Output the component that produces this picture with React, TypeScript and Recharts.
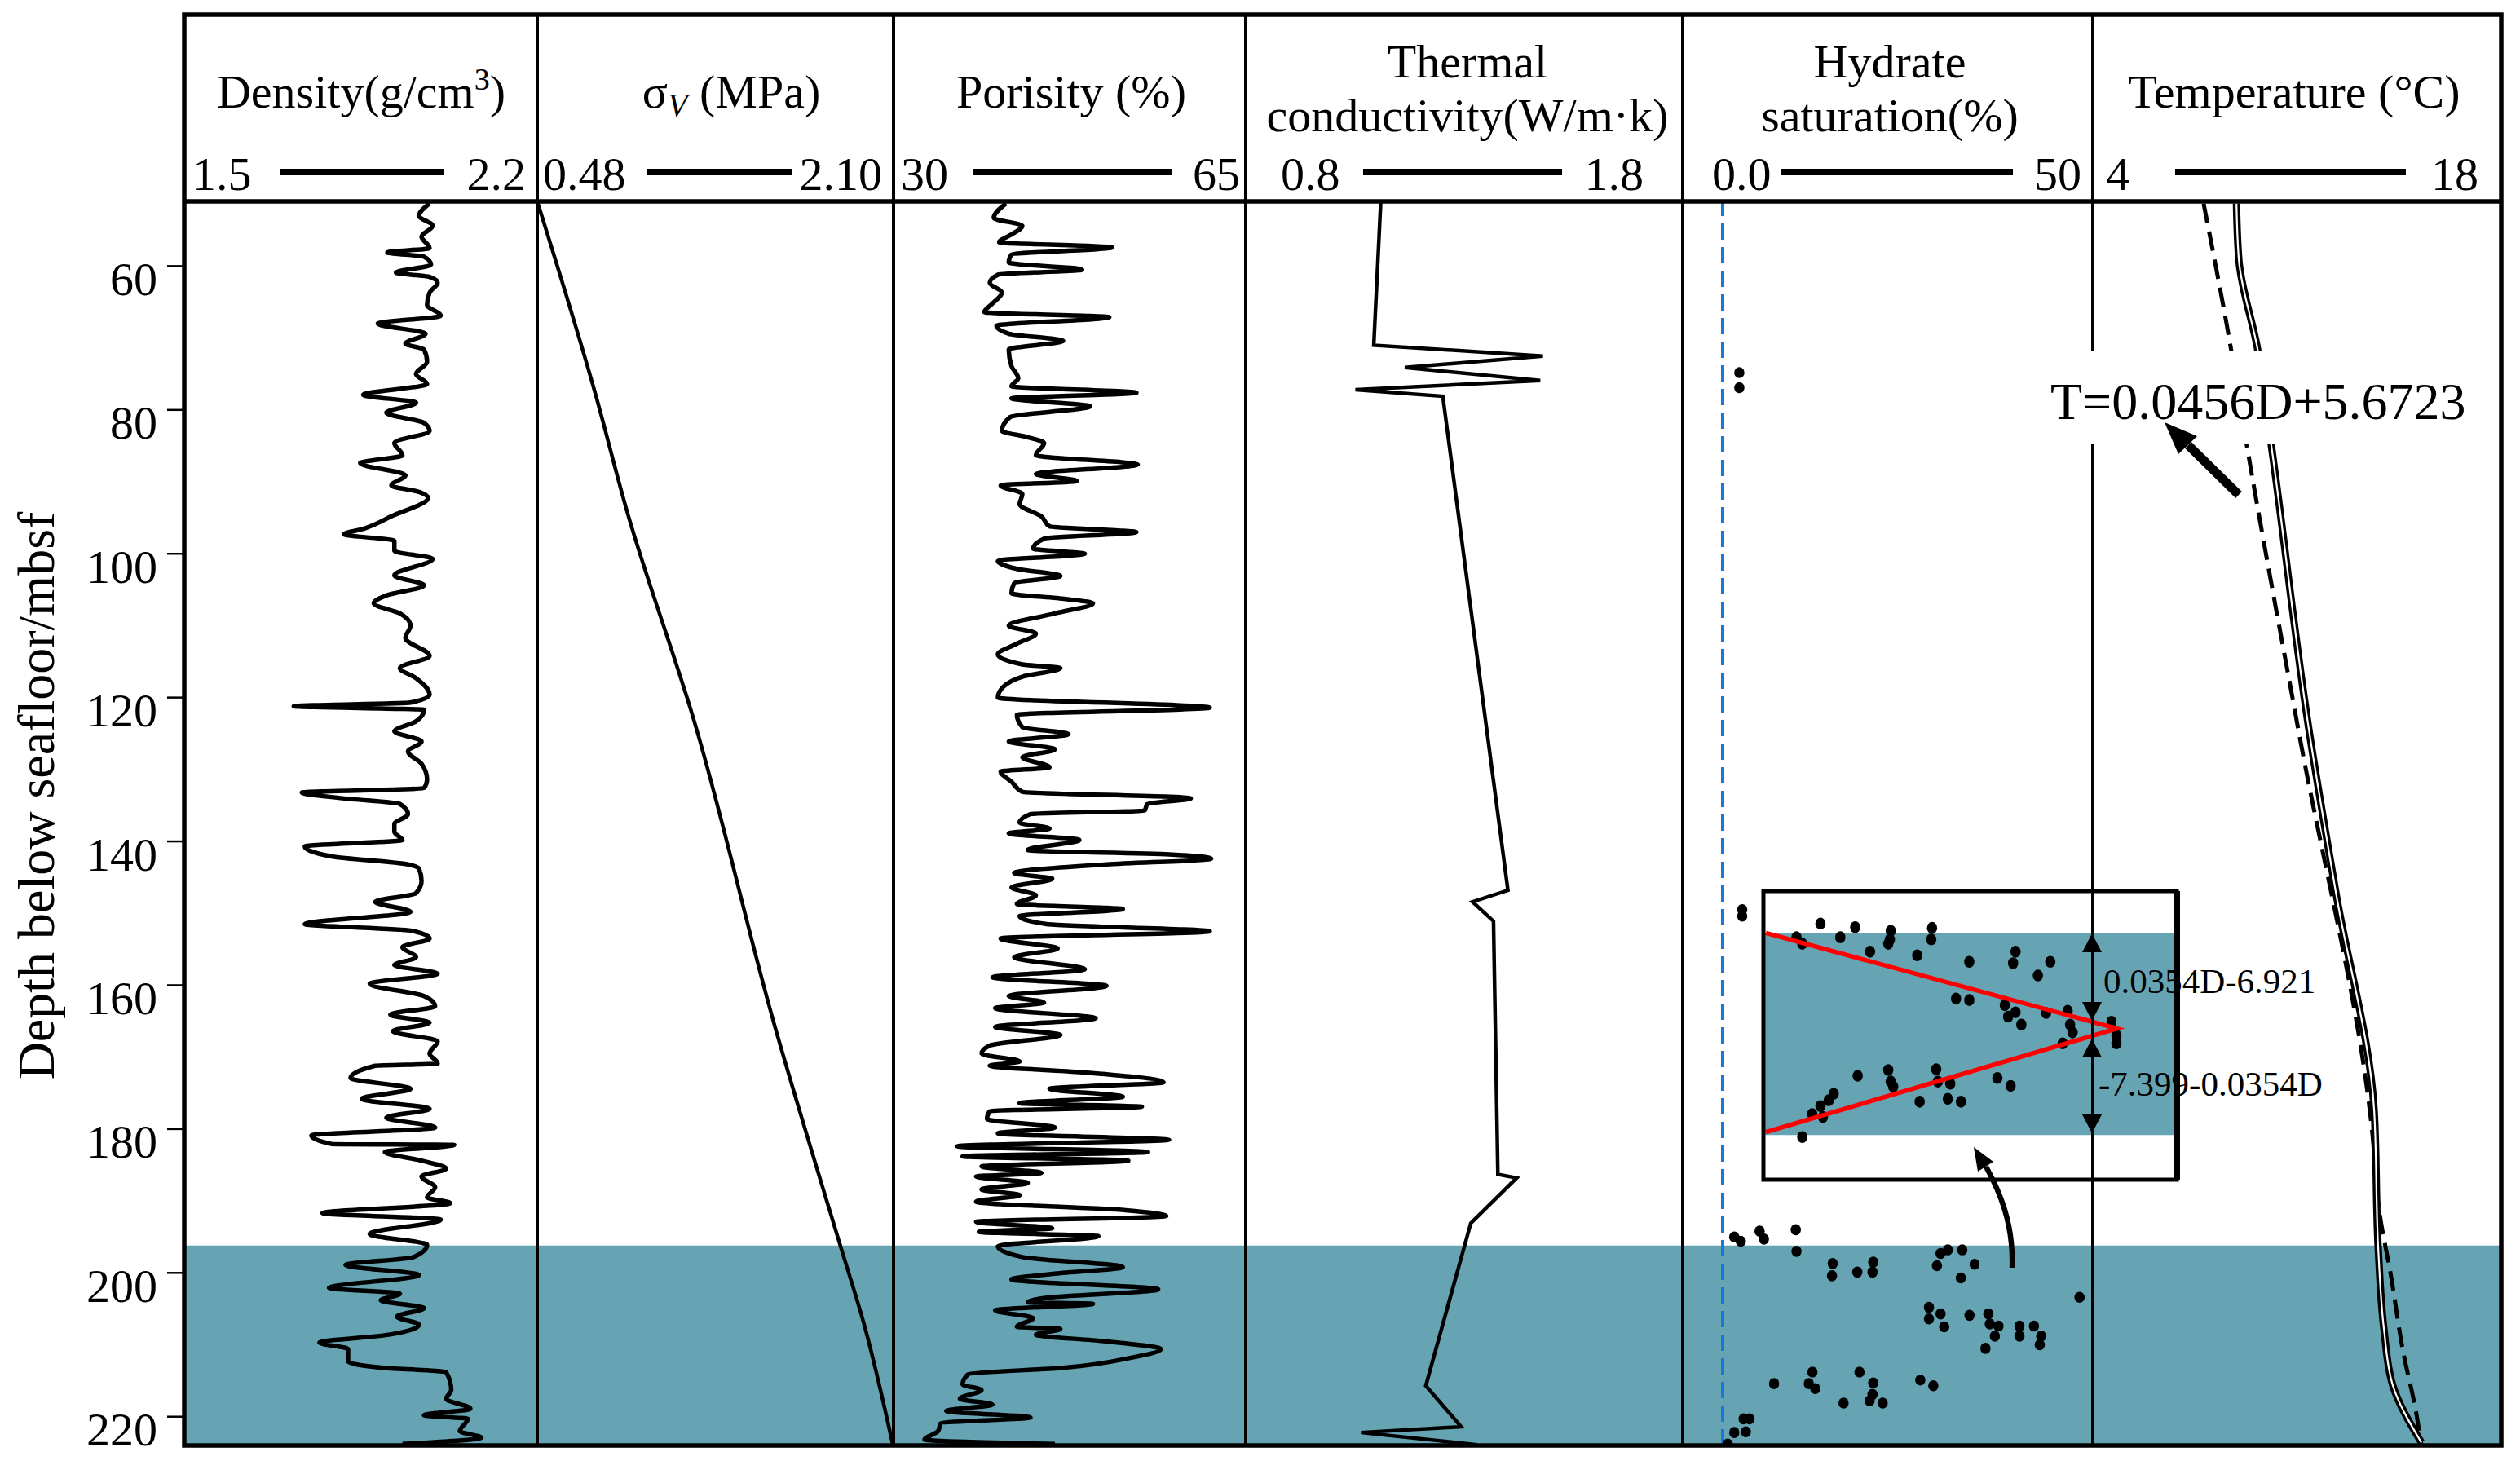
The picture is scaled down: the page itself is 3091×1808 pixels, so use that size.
import React from 'react';
import { ScatterChart, Scatter, XAxis, YAxis, ReferenceArea, ReferenceLine } from 'recharts';

// ---------------- data ----------------
const depthTicks = [60, 80, 100, 120, 140, 160, 180, 200, 220];
const depthRange: [number, number] = [51, 224];
const hydrateZone: [number, number] = [196.2, 224];

// [depth (mbsf), density g/cm3]
const densityLog: [number, number][] = [
  [51.3, 1.986], [53.0, 1.965], [54.4, 1.992], [55.9, 1.97], [57.5, 1.986], [58.1, 1.902], [58.7, 1.975], [59.8, 1.989],
  [60.9, 1.919], [61.5, 1.986], [62.3, 2.002], [63.7, 1.986], [65.4, 1.981], [66.9, 2.008], [68.0, 1.883], [69.4, 1.978],
  [70.8, 1.938], [71.6, 1.975], [73.3, 1.981], [75.0, 1.959], [76.4, 1.981], [77.9, 1.854], [79.0, 1.959], [80.4, 1.9],
  [81.8, 1.975], [82.9, 1.986], [84.6, 1.916], [86.3, 1.932], [87.4, 1.848], [89.1, 1.938], [90.5, 1.91], [91.4, 1.965],
  [92.2, 1.983], [94.8, 1.91], [96.5, 1.856], [97.3, 1.816], [98.2, 1.916], [99.6, 1.916], [100.7, 1.992], [103.0, 1.916],
  [104.4, 1.975], [105.8, 1.9], [106.9, 1.875], [108.3, 1.927], [110.0, 1.948], [111.7, 1.938], [114.2, 1.986], [115.9, 1.927],
  [117.3, 1.959], [119.6, 1.986], [120.7, 1.948], [121.2, 1.716], [121.7, 1.975], [123.3, 1.959], [124.7, 1.916], [126.1, 1.97],
  [127.5, 1.943], [129.2, 1.97], [131.4, 1.981], [132.6, 1.975], [133.2, 1.732], [134.0, 1.813], [134.8, 1.927], [136.2, 1.943],
  [137.6, 1.916], [138.7, 1.916], [139.8, 1.932], [140.7, 1.738], [142.1, 1.792], [143.2, 1.943], [143.8, 1.965], [145.5, 1.97],
  [147.2, 1.959], [148.4, 1.878], [149.8, 1.948], [151.5, 1.738], [152.4, 1.948], [153.5, 1.986], [154.7, 1.932], [156.1, 1.959],
  [157.2, 1.916], [158.4, 2.002], [159.8, 1.867], [161.5, 1.975], [162.9, 1.997], [164.1, 1.908], [165.2, 1.986], [166.4, 1.913],
  [167.8, 2.002], [169.5, 1.986], [170.9, 2.002], [171.2, 1.878], [172.9, 1.829], [174.4, 1.948], [175.8, 1.851], [177.2, 1.986],
  [178.4, 1.9], [179.8, 1.997], [180.9, 1.751], [182.1, 1.792], [182.2, 2.035], [183.2, 1.897], [184.4, 1.97], [185.5, 2.019],
  [186.6, 1.97], [188.1, 1.997], [189.5, 1.981], [190.3, 2.027], [191.7, 1.773], [192.6, 2.008], [194.6, 1.867], [196.1, 1.981],
  [197.8, 1.954], [198.9, 1.819], [200.3, 1.965], [202.1, 1.786], [202.9, 1.927], [203.8, 1.889], [204.9, 1.975], [206.1, 1.921],
  [207.2, 1.965], [208.6, 1.905], [209.7, 1.767], [210.6, 1.824], [212.3, 1.824], [213.2, 1.894], [213.8, 2.019], [216.3, 2.029],
  [217.5, 2.019], [218.9, 2.067], [219.8, 1.975], [220.3, 2.062], [222.0, 2.046], [222.9, 2.089], [223.8, 1.932],
];

// [depth, vertical effective stress MPa]
const stressLog: [number, number][] = [
  [51, 0.48], [77.4, 0.741], [94.4, 0.891], [122.8, 1.189], [165.9, 1.562], [196.5, 1.861], [206.7, 1.962], [223.8, 2.096],
];

// [depth, porosity %]
const porosityLog: [number, number][] = [
  [51.3, 41.18], [53.3, 39.96], [54.4, 42.8], [55.6, 41.72], [56.7, 40.5], [57.4, 51.71], [58.4, 41.72], [59.5, 41.45],
  [60.5, 48.74], [61.2, 40.37], [62.3, 39.56], [63.7, 40.77], [65.2, 39.83], [66.4, 39.02], [67.1, 51.44], [68.3, 40.23],
  [69.4, 41.45], [70.4, 46.85], [71.6, 41.45], [73.9, 41.72], [75.6, 42.39], [76.7, 41.72], [77.6, 54.14], [78.4, 41.72],
  [79.5, 49.55], [81.0, 41.58], [82.9, 40.77], [83.8, 43.34], [84.6, 44.96], [86.3, 44.15], [87.6, 54.27], [88.9, 44.15],
  [89.9, 48.2], [90.5, 40.64], [91.7, 42.8], [93.1, 42.53], [94.8, 44.69], [96.2, 45.5], [97.0, 54.14], [97.9, 44.96],
  [99.3, 43.88], [100.0, 49.01], [101.0, 40.37], [102.1, 42.26], [103.1, 46.58], [104.1, 41.99], [105.5, 41.72], [106.3, 47.12],
  [106.9, 49.82], [108.3, 46.04], [110.0, 41.45], [111.1, 44.15], [112.5, 42.26], [114.0, 40.37], [115.4, 42.8], [115.9, 46.58],
  [117.1, 42.8], [118.5, 40.91], [120.0, 40.37], [121.4, 61.43], [122.4, 42.26], [124.1, 42.8], [125.1, 47.39], [126.1, 41.45],
  [127.2, 46.04], [128.3, 42.8], [129.7, 45.5], [130.3, 40.64], [131.7, 41.72], [133.1, 42.8], [134.0, 59.54], [134.8, 55.22],
  [135.7, 54.95], [136.2, 43.61], [137.4, 42.53], [138.2, 45.5], [138.9, 41.45], [139.8, 48.47], [141.2, 43.34], [141.8, 57.38],
  [142.4, 61.56], [143.2, 51.17], [144.4, 41.99], [145.2, 45.77], [146.4, 41.72], [147.5, 44.15], [148.7, 42.26], [149.4, 52.79],
  [150.4, 42.53], [151.5, 45.23], [152.5, 61.43], [153.5, 40.64], [154.9, 46.31], [156.1, 41.99], [157.8, 49.01], [158.9, 39.83],
  [160.1, 51.17], [161.5, 41.45], [162.4, 44.96], [163.2, 40.1], [164.6, 50.09], [165.8, 40.1], [166.9, 46.58], [168.4, 39.56],
  [169.5, 38.75], [170.6, 42.53], [171.2, 39.56], [172.1, 48.74], [173.5, 56.84], [174.4, 45.5], [175.5, 52.79], [176.4, 42.53],
  [176.9, 54.68], [177.5, 39.56], [178.6, 39.29], [179.8, 46.04], [180.6, 40.37], [181.5, 57.38], [182.4, 36.32], [183.2, 55.22],
  [183.8, 36.86], [184.4, 53.33], [185.2, 38.75], [186.1, 44.69], [186.6, 38.21], [187.5, 43.34], [188.4, 38.75], [189.2, 42.53],
  [190.1, 38.21], [191.3, 53.06], [192.1, 57.11], [192.9, 38.21], [193.8, 45.77], [194.3, 38.48], [194.9, 50.36], [196.3, 40.37],
  [197.8, 42.8], [199.2, 52.79], [200.1, 46.04], [200.9, 41.72], [202.3, 56.3], [203.5, 44.96], [204.1, 43.34], [204.3, 49.82],
  [205.2, 40.1], [206.3, 43.88], [207.5, 42.26], [207.8, 46.58], [208.6, 44.15], [209.5, 50.9], [210.6, 56.57], [211.8, 53.6],
  [213.2, 46.85], [214.1, 37.4], [215.5, 36.86], [216.3, 38.75], [217.5, 36.59], [218.3, 39.83], [219.2, 35.24], [220.1, 43.61],
  [220.9, 34.7], [222.0, 34.43], [223.2, 33.08], [223.8, 46.04],
];

// [depth, thermal conductivity W/m·k]
const conductivityLog: [number, number][] = [
  [51, 1.109], [71.0, 1.093], [72.5, 1.48], [74.1, 1.164], [75.9, 1.474], [77.2, 1.051], [78.1, 1.251], [146.8, 1.4],
  [148.4, 1.319], [151.1, 1.367], [186.3, 1.377], [186.8, 1.42], [193.1, 1.315], [215.7, 1.212], [221.4, 1.293], [222.2, 1.064],
  [223.9, 1.329],
];

// [depth, hydrate saturation %]
const saturationPoints: [number, number][] = [
  [74.8, 2.3], [76.9, 2.3], [149.5, 2.7], [150.4, 2.7],
  [195.0, 1.6], [195.6, 2.5], [194.2, 5.1], [195.3, 5.7], [194.0, 10.1], [197.0, 10.2], [198.7, 15.2], [200.4, 15.1],
  [199.9, 18.6], [198.5, 20.8], [199.9, 20.7], [197.3, 30.1], [196.8, 31.1], [199.0, 29.6], [196.8, 33.1], [198.8, 34.8],
  [200.7, 32.9], [203.4, 49.3], [204.8, 28.5], [206.4, 28.5], [205.7, 30.1], [207.5, 30.6], [205.9, 34.1], [205.7, 36.7],
  [207.1, 36.9], [207.4, 38.1], [208.8, 37.6], [210.5, 36.3], [207.4, 41.0], [208.8, 41.0], [207.4, 43.0], [208.8, 44.0],
  [210.0, 43.8], [215.4, 7.1], [213.8, 12.4], [215.4, 11.9], [216.1, 12.8], [213.8, 18.9], [215.3, 20.8], [216.9, 20.7],
  [217.8, 20.3], [218.1, 22.1], [218.1, 16.7], [214.9, 27.3], [215.7, 29.1], [220.3, 2.9], [220.3, 3.7], [222.2, 1.6],
  [222.1, 3.2], [223.8, 0.7],
];

// inset (enlarged hydrate zone): [depth, saturation index]
const insetPoints: [number, number][] = [
  [196.6, 4.0], [197.5, 4.7], [194.7, 6.9], [196.6, 9.3], [195.2, 11.1], [198.6, 12.9], [195.7, 15.4], [196.9, 15.3],
  [197.5, 15.1], [199.1, 18.6], [195.3, 20.4], [196.9, 20.3], [200.0, 24.9], [198.6, 30.5], [200.2, 30.2], [200.0, 34.7],
  [201.9, 33.2], [205.1, 23.3], [205.3, 24.9], [206.0, 29.2], [207.6, 29.6], [207.0, 30.5], [208.7, 31.2], [207.1, 34.2],
  [206.8, 36.8], [208.7, 37.1], [209.8, 37.4], [211.3, 36.2], [208.3, 42.1], [210.2, 42.7], [211.3, 42.7], [215.8, 11.4],
  [215.0, 15.1], [216.6, 15.4], [217.3, 15.7], [214.9, 20.9], [216.6, 21.1], [216.9, 22.6], [219.0, 22.3], [219.4, 23.9],
  [219.4, 18.9], [216.1, 28.3], [217.2, 29.9], [218.3, 8.5], [219.2, 7.9], [220.0, 6.9], [221.5, 7.2], [221.1, 5.9],
  [224.3, 4.7],
];
const insetTrend: [number, number][] = [[196.0, 0.3], [209.25, 42.75], [223.6, 0.3]];
const insetDepthRange: [number, number] = [190.2, 230.2];
const insetXRange: [number, number] = [0, 50];
const insetLabels = ['0.0354D-6.921', '-7.399-0.0354D'];

// [depth, temperature °C]
const temperatureLog: [number, number][] = [
  [51.3, 9.2], [59.2, 9.29], [71.6, 9.98], [85.1, 10.49], [124.5, 11.87], [147.1, 12.86], [177.4, 14.27], [196.6, 14.42],
  [207.8, 14.63], [215.7, 14.96], [223.6, 16.01],
];
const temperatureFit: [number, number][] = [
  [51.3, 7.99], [71.1, 8.98], [85.1, 9.59], [124.5, 11.48], [179.7, 14.18], [192.0, 14.48], [200.0, 14.87], [211.2, 15.35],
  [219.1, 15.8], [223.8, 16.0],
];
const fitLabel = 'T=0.0456D+5.6723';

const rangeLeft = ['1.5', '0.48', '30', '0.8', '0.0', '4'];
const rangeRight = ['2.2', '2.10', '65', '1.8', '50', '18'];
const axisTitle = 'Depth below seafloor/mbsf';

// ---------------- layout ----------------
const FONT = "'Liberation Serif', 'Times New Roman', Times, serif";
const TEAL = '#66A4B4';
const EDGES = [227, 659, 1096, 1528, 2064, 2567, 3068];
const TOP = 18;
const PLOT_TOP = 247;
const PLOT_BOTTOM = 1773;
const PLOT_H = PLOT_BOTTOM - PLOT_TOP;
const AXIS_PAD = 34;
const DOMAINS: [number, number][] = [
  [1.5, 2.2],
  [0.48, 2.1],
  [30, 65],
  [0.8, 1.8],
  [-5.52, 51.13],
  [3.91, 18.95],
];
const INSET = { x: 2163, y: 1093, w: 507, h: 354 };

const toXY = (arr: [number, number][]) => arr.map(([d, v]) => ({ d, v }));
const NoDot = () => <g />;
const MainDot = (p: any) => <ellipse cx={p.cx} cy={p.cy} rx={6.3} ry={6.8} fill="#000" />;
const InsetDot = (p: any) => <ellipse cx={p.cx} cy={p.cy} rx={6.3} ry={7.3} fill="#000" />;
const DepthTick = (p: any) => (
  <text x={EDGES[0] - 34} y={p.y + 16} textAnchor="end" dominantBaseline="central" fontFamily={FONT} fontSize={58} fill="#000">
    {p.payload.value}
  </text>
);

function Track(props: { idx: number; axis?: boolean; children?: React.ReactNode }) {
  const { idx, axis, children } = props;
  const axisW = axis ? EDGES[0] : 0;
  const pad = axis ? AXIS_PAD : 0;
  const left = EDGES[idx] - axisW;
  const width = EDGES[idx + 1] - EDGES[idx] + axisW;
  return (
    <div style={{ position: 'absolute', left, top: PLOT_TOP, width, height: PLOT_H + pad }}>
      <ScatterChart width={width} height={PLOT_H + pad} margin={{ top: 0, right: 0, bottom: pad, left: 0 }}>
        <XAxis type="number" dataKey="v" domain={DOMAINS[idx]} hide />
        <YAxis
          type="number"
          dataKey="d"
          domain={depthRange}
          reversed
          hide={!axis}
          width={axisW}
          ticks={depthTicks}
          interval={0}
          axisLine={false}
          tickLine={{ stroke: '#000', strokeWidth: 2.5 }}
          tickSize={22}
          tick={<DepthTick />}
        />
        <ReferenceArea y1={hydrateZone[0]} y2={hydrateZone[1]} fill={TEAL} fillOpacity={1} stroke="none" />
        {children}
      </ScatterChart>
    </div>
  );
}

function Header() {
  const centers = [443, 897, 1314, 1800, 2318, 2814];
  const leftX = [236, 666, 1105, 1571, 2100, 2583];
  const rightX = [645, 1082, 1521, 2016, 2553, 3040];
  const barL = [344, 793, 1193, 1672, 2185, 2668];
  const barR = [544, 972, 1438, 1916, 2469, 2951];
  const ts = { fontFamily: FONT, fontSize: 58, fill: '#000' } as const;
  return (
    <g>
      <text x={centers[0]} y={132} textAnchor="middle" {...ts}>
        Density(g/cm<tspan fontSize={38} dy={-22}>3</tspan><tspan dy={22}>)</tspan>
      </text>
      <text x={centers[1]} y={132} textAnchor="middle" {...ts}>
        σ<tspan fontStyle="italic" fontSize={40} dy={10}>V</tspan><tspan dy={-10}> (MPa)</tspan>
      </text>
      <text x={centers[2]} y={132} textAnchor="middle" {...ts}>Porisity (%)</text>
      <text x={centers[3]} y={95} textAnchor="middle" {...ts}>Thermal</text>
      <text x={centers[3]} y={161} textAnchor="middle" {...ts}>conductivity(W/m·k)</text>
      <text x={centers[4]} y={95} textAnchor="middle" {...ts}>Hydrate</text>
      <text x={centers[4]} y={161} textAnchor="middle" {...ts}>saturation(%)</text>
      <text x={centers[5]} y={132} textAnchor="middle" {...ts}>Temperature (°C)</text>
      {rangeLeft.map((t, i) => (
        <g key={i}>
          <text x={leftX[i]} y={233} textAnchor="start" {...ts}>{t}</text>
          <text x={rightX[i]} y={233} textAnchor="end" {...ts}>{rangeRight[i]}</text>
          <line x1={barL[i]} x2={barR[i]} y1={211} y2={211} stroke="#000" strokeWidth={8} />
        </g>
      ))}
    </g>
  );
}

export default function App() {
  const W = 3091;
  const H = 1808;
  const sepX = EDGES.slice(1, 6);
  return (
    <div style={{ position: 'absolute', left: 0, top: 0, width: W, height: H, background: '#fff', fontFamily: FONT }}>
      <Track idx={0} axis>
        <Scatter data={toXY(densityLog)} line={{ stroke: '#000', strokeWidth: 5.5 }} lineJointType="monotoneY" shape={NoDot} isAnimationActive={false} />
      </Track>
      <Track idx={1}>
        <Scatter data={toXY(stressLog)} line={{ stroke: '#000', strokeWidth: 4.5 }} lineJointType="monotoneY" shape={NoDot} isAnimationActive={false} />
      </Track>
      <Track idx={2}>
        <Scatter data={toXY(porosityLog)} line={{ stroke: '#000', strokeWidth: 5.5 }} lineJointType="monotoneY" shape={NoDot} isAnimationActive={false} />
      </Track>
      <Track idx={3}>
        <Scatter data={toXY(conductivityLog)} line={{ stroke: '#000', strokeWidth: 4.5 }} shape={NoDot} isAnimationActive={false} />
      </Track>
      <Track idx={4}>
        <ReferenceLine x={0} stroke="#1A78D6" strokeWidth={4} strokeDasharray="20 9" />
        <Scatter data={toXY(saturationPoints)} shape={MainDot} isAnimationActive={false} />
      </Track>
      <Track idx={5}>
        <Scatter data={toXY(temperatureFit)} line={{ stroke: '#000', strokeWidth: 5, strokeDasharray: '24 11' }} lineJointType="monotoneY" shape={NoDot} isAnimationActive={false} />
        <Scatter data={toXY(temperatureLog)} line={{ stroke: '#000', strokeWidth: 9 }} lineJointType="monotoneY" shape={NoDot} isAnimationActive={false} />
        <Scatter data={toXY(temperatureLog)} line={{ stroke: '#fff', strokeWidth: 2.2 }} lineJointType="monotoneY" shape={NoDot} isAnimationActive={false} />
      </Track>

      {/* inset */}
      <div style={{ position: 'absolute', left: INSET.x, top: INSET.y, width: INSET.w, height: INSET.h, background: '#fff' }}>
        <ScatterChart width={INSET.w} height={INSET.h} margin={{ top: 0, right: 0, bottom: 0, left: 0 }}>
          <XAxis type="number" dataKey="v" domain={insetXRange} hide />
          <YAxis type="number" dataKey="d" domain={insetDepthRange} reversed hide />
          <ReferenceArea y1={196} y2={224} fill={TEAL} fillOpacity={1} stroke="none" />
          <Scatter data={toXY(insetPoints)} shape={InsetDot} isAnimationActive={false} />
          <Scatter data={toXY(insetTrend)} line={{ stroke: '#FF0000', strokeWidth: 5.5 }} shape={NoDot} isAnimationActive={false} />
        </ScatterChart>
      </div>

      <svg width={W} height={H} style={{ position: 'absolute', left: 0, top: 0, pointerEvents: 'none' }}>
        {/* inset frame */}
        <rect x={INSET.x} y={INSET.y} width={INSET.w} height={INSET.h} fill="none" stroke="#000" strokeWidth={5} />
        <line x1={INSET.x + INSET.w} x2={INSET.x + INSET.w} y1={INSET.y} y2={INSET.y + INSET.h} stroke="#000" strokeWidth={8} />
        {/* frame */}
        <rect x={226} y={TOP} width={3068 - 226} height={PLOT_BOTTOM - TOP} fill="none" stroke="#000" strokeWidth={5.5} />
        <line x1={226} x2={3068} y1={PLOT_TOP} y2={PLOT_TOP} stroke="#000" strokeWidth={5.5} />
        {sepX.map((x) => (
          <line key={x} x1={x} x2={x} y1={TOP} y2={PLOT_BOTTOM} stroke="#000" strokeWidth={4} />
        ))}
        <Header />
        <text x={66} y={976} textAnchor="middle" transform="rotate(-90 66 976)" fontFamily={FONT} fontSize={64} fill="#000">
          {axisTitle}
        </text>
        {/* inset arrows */}
        <polygon points="2566,1145 2554,1168 2578,1168" fill="#000" />
        <polygon points="2566,1252 2554,1229 2578,1229" fill="#000" />
        <polygon points="2566,1274 2554,1297 2578,1297" fill="#000" />
        <polygon points="2566,1390 2554,1367 2578,1367" fill="#000" />
        <text x={2580} y={1218} fontFamily={FONT} fontSize={43} fill="#000">{insetLabels[0]}</text>
        <text x={2574} y={1344} fontFamily={FONT} fontSize={43} fill="#000">{insetLabels[1]}</text>
        {/* curved arrow from zone to inset */}
        <path d="M 2468 1555 C 2470 1500, 2452 1460, 2436 1431" fill="none" stroke="#000" strokeWidth={6.5} />
        <polygon points="2421,1407 2445,1425 2426,1437" fill="#000" />
        {/* fit label */}
        <rect x={2505} y={430} width={530} height={114} fill="#fff" />
        <text x={2515} y={514} fontFamily={FONT} fontSize={64} fill="#000">{fitLabel}</text>
        <line x1={2746} y1={607} x2={2684} y2={546} stroke="#000" strokeWidth={11} />
        <polygon points="2655,518 2695,535 2672,557" fill="#000" />
      </svg>
    </div>
  );
}
